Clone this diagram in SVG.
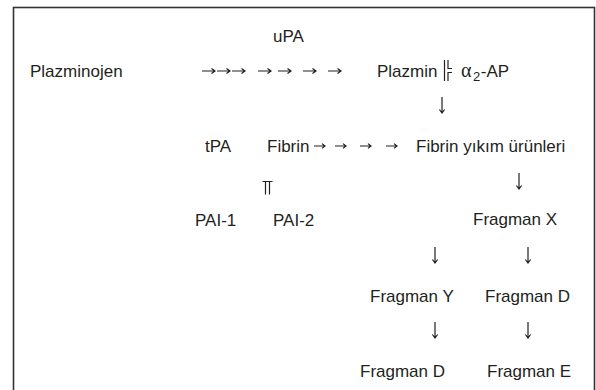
<svg xmlns="http://www.w3.org/2000/svg" width="596" height="390" viewBox="0 0 596 390">
<style>
text{font-family:"Liberation Sans",Arial,sans-serif;font-size:17px;fill:#231f20}
.sym{font-family:"Liberation Serif","Times New Roman",serif}
.c{stroke:#231f20;stroke-width:1.2;fill:none}
</style>
<defs>
<path id="ra" d="M0 0h13M9.5 -2.6L13 0L9.5 2.6" class="c"/>
<path id="rs" d="M0 0h11M8 -2.4L11 0L8 2.4" class="c"/>
<path id="da" d="M0 0v16M-2.6 12.5L0 16L2.6 12.5" class="c"/>
</defs>
<rect x="13.5" y="7.5" width="581" height="400" fill="#fff" stroke="#333" stroke-width="1.6"/>
<g id="uPA"><text x="273" y="42">uPA</text></g>
<g id="plazminojen"><text x="30" y="77">Plazminojen</text></g>
<g id="plazmin"><text x="377" y="77">Plazmin</text></g>
<g id="inhib1">
<path class="c" d="M444.5 60v21M448 60v8.5h4M448 81v-8.5h4"/>
</g>
<g id="a2ap"><text x="461" y="77"><tspan class="sym" font-size="20">α</tspan><tspan font-size="13" dx="1.5" dy="4">2</tspan><tspan dx="0.5" dy="-4">-AP</tspan></text></g>
<g id="tPA"><text x="205" y="152">tPA</text></g>
<g id="fibrin"><text x="267" y="152">Fibrin</text></g>
<g id="fyu"><text x="416" y="152">Fibrin yıkım ürünleri</text></g>
<g id="inhib2"><path class="c" d="M262.5 181.5h10M265.5 181.5v13M269.5 181.5v13"/></g>
<g id="pai1"><text x="195" y="226">PAI-1</text></g>
<g id="pai2"><text x="273" y="226">PAI-2</text></g>
<g id="fx"><text x="473" y="225">Fragman X</text></g>
<g id="fy"><text x="370" y="302">Fragman Y</text></g>
<g id="fd1"><text x="485" y="302">Fragman D</text></g>
<g id="fd2"><text x="360" y="377">Fragman D</text></g>
<g id="fe"><text x="487" y="377">Fragman E</text></g>
<g id="connectors">
<use href="#ra" x="202" y="71"/>
<use href="#ra" x="217" y="71"/>
<use href="#ra" x="232" y="71"/>
<use href="#ra" x="258" y="71"/>
<use href="#ra" x="278" y="71"/>
<use href="#ra" x="303" y="71"/>
<use href="#ra" x="328" y="71"/>
<use href="#rs" x="314" y="146"/>
<use href="#rs" x="335" y="146"/>
<use href="#rs" x="360" y="146"/>
<use href="#rs" x="386" y="146"/>
<use href="#da" x="442" y="97"/>
<use href="#da" x="519" y="173"/>
<use href="#da" x="435" y="247"/>
<use href="#da" x="528" y="247"/>
<use href="#da" x="435" y="322"/>
<use href="#da" x="528" y="322"/>
</g>
</svg>
